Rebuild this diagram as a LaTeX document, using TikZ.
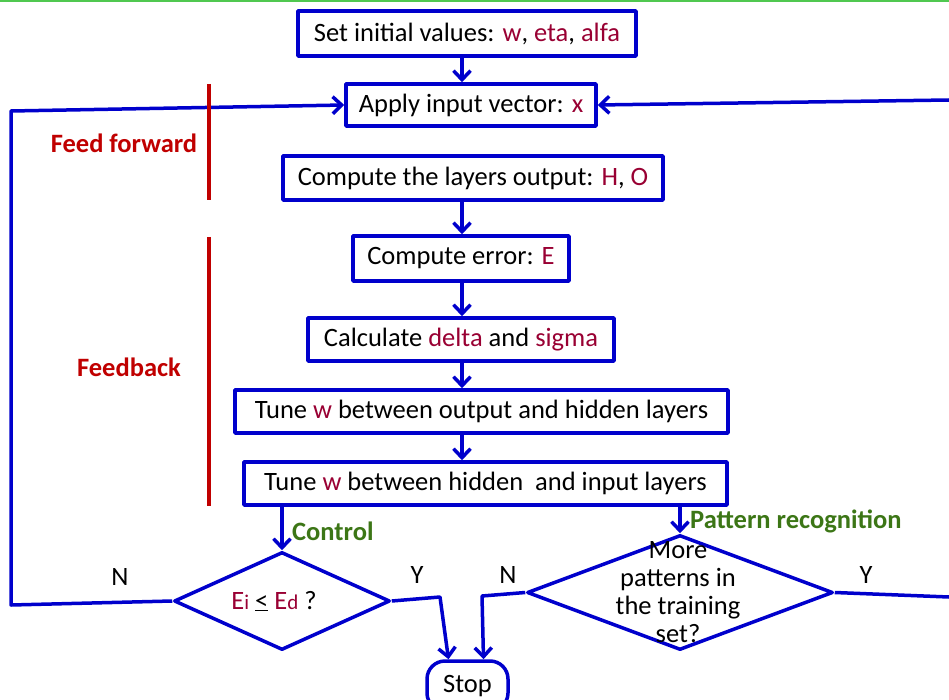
\documentclass[tikz,border=0pt]{standalone}
\usepackage{fontspec}
\setmainfont{Carlito}
\usetikzlibrary{shapes.geometric,arrows.meta}
\definecolor{flowblue}{RGB}{0,0,204}
\definecolor{varred}{RGB}{153,0,51}
\definecolor{phasered}{RGB}{192,0,0}
\definecolor{taggreen}{RGB}{60,118,22}
\definecolor{rulegreen}{RGB}{80,200,80}
\newcommand{\varc}[1]{\textcolor{varred}{#1}}
\newcommand{\subsz}[1]{{\fontsize{21}{21}\selectfont #1}}
\begin{document}
\begin{tikzpicture}[x=1pt,y=-1pt,
  font=\fontsize{26.5}{28}\selectfont,
  line join=round,
  stepbox/.style={draw=flowblue,line width=3.5pt,inner sep=0pt,fill=white},
  decision/.style={draw=flowblue,line width=3.5pt,diamond,inner sep=0pt,aspect=2.2},
  arr/.style={draw=flowblue,line width=3.5pt,-{Straight Barb[length=9pt,width=17pt]}},
  link/.style={draw=flowblue,line width=3.5pt},
  phase/.style={draw=phasered,line width=4.5pt},
  phaselabel/.style={text=phasered,inner sep=0pt,font=\fontsize{26.5}{28}\selectfont\bfseries},
  tag/.style={text=taggreen,anchor=west,inner sep=0pt,font=\fontsize{26.5}{28}\selectfont\bfseries},
  yn/.style={inner sep=0pt}]

\useasboundingbox (0,0) rectangle (949,700);

% thin rule along the top edge
\fill[rulegreen] (0,0) rectangle (949,2);

% process steps
\node[stepbox,minimum width=338pt,minimum height=45pt] (init) at (467,33.5)
  {Set initial values: \varc{w}, \varc{eta}, \varc{alfa}};
\node[stepbox,minimum width=250pt,minimum height=42pt] (apply) at (471,105)
  {Apply input vector: \varc{x}};
\node[stepbox,minimum width=380pt,minimum height=44pt] (layers) at (473,178)
  {Compute the layers output: \varc{H}, \varc{O}};
\node[stepbox,minimum width=216pt,minimum height=45pt] (err) at (461,258.5)
  {Compute error: \varc{E}};
\node[stepbox,minimum width=306pt,minimum height=43pt] (delta) at (461,339.5)
  {Calculate \varc{delta} and \varc{sigma}};
\node[stepbox,minimum width=493pt,minimum height=43pt] (tuneoh) at (481.5,411.5)
  {Tune \varc{w} between output and hidden layers};
\node[stepbox,minimum width=483pt,minimum height=43pt] (tunehi) at (485.5,483.5)
  {Tune \varc{w} between hidden\ \ and input layers};

% decisions
\node[decision,minimum width=216pt,minimum height=98pt] (ctrl) at (282,601)
  {\varc{E\subsz{i}} \underline{<} \varc{E\subsz{d}} ?\hspace*{16pt}};
\node[decision,minimum width=306pt,minimum height=115pt] (more) at (680,592.5) {};
\node[align=center,inner sep=0pt] (moretext) at (678,592)
  {More\\patterns in\\the training\\set?};

% terminal
\node[stepbox,rounded corners=18pt,minimum width=81pt,minimum height=50pt] (stop) at (467.5,686) {Stop};

% main spine
\coordinate (spine) at (462,0);
\draw[arr] (spine |- init.south) -- (spine |- apply.north);
\draw[arr] (spine |- layers.south) -- (spine |- err.north);
\draw[arr] (spine |- err.south) -- (spine |- delta.north);
\draw[arr] (spine |- delta.south) -- (spine |- tuneoh.north);
\draw[arr] (spine |- tuneoh.south) -- (spine |- tunehi.north);
\draw[arr] (ctrl.north |- tunehi.south) -- (ctrl.north);
\draw[arr] (more.north |- tunehi.south) -- (more.north);

% feedback loops
\coordinate (lb) at (11,605);
\coordinate (lt) at (11,111);
\draw[arr] (ctrl.west) -- (lb) -- (lt) -- (apply.west);
\coordinate (rb) at (949,597);
\coordinate (rt) at (949,100);
\draw[link] (more.east) -- (rb);
\draw[arr] (rt) -- (apply.east);

% exits to stop
\coordinate (yc) at (440,597);
\coordinate (nc) at (482,596);
\draw[arr] (ctrl.east) -- (yc) -- ([xshift=-19pt]stop.north);
\draw[arr] (more.west) -- (nc) -- ([xshift=16pt]stop.north);

% phase markers
\draw[phase] (209,84) -- (209,200);
\draw[phase] (209,237) -- (209,506);
\node[phaselabel] (ff) at (124,143) {Feed forward};
\node[phaselabel] (fb) at (129,367) {Feedback};

% tags and branch labels
\node[tag] (ctrltag) at (292,531) {Control};
\node[tag] (pattag) at (690,521) {Pattern recognition};
\node[yn] (n1) at (120,577) {N};
\node[yn] (y1) at (417,575) {Y};
\node[yn] (n2) at (508,575) {N};
\node[yn] (y2) at (866,575) {Y};
\end{tikzpicture}
\end{document}
